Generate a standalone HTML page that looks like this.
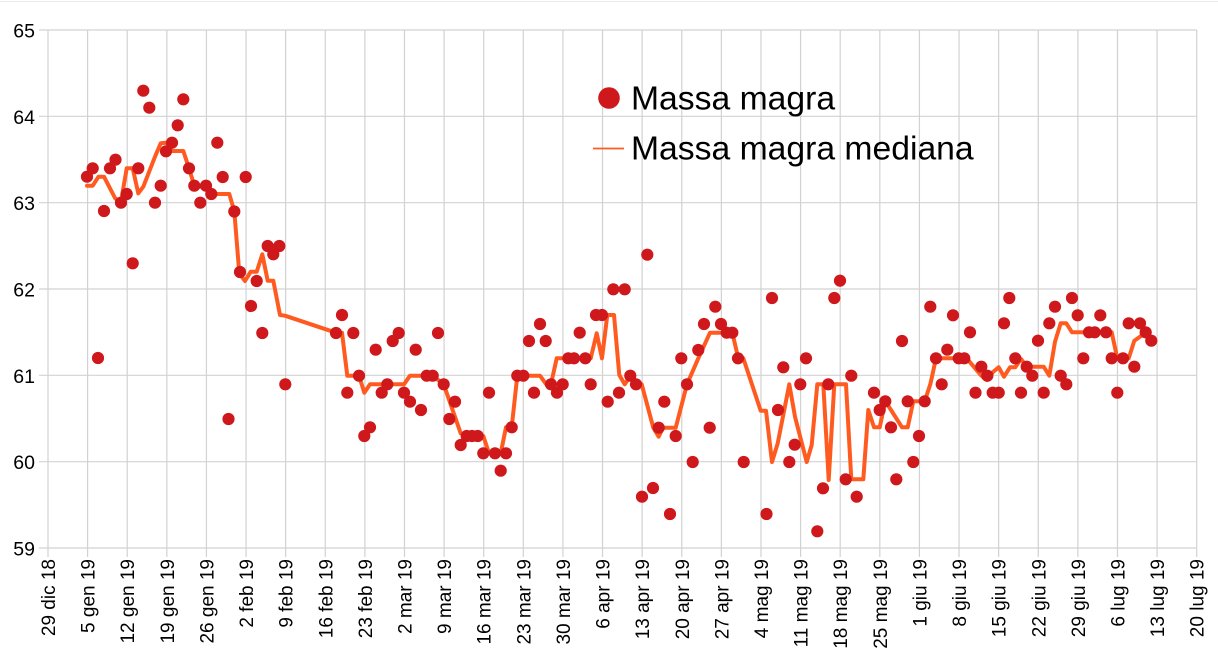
<!DOCTYPE html>
<html>
<head>
<meta charset="utf-8">
<style>
html,body{margin:0;padding:0;background:#fff;}
svg{display:block;}
text{font-family:"Liberation Sans",Arial,sans-serif;fill:#000;}
</style>
</head>
<body>
<svg width="1218" height="670" viewBox="0 0 1218 670" xmlns="http://www.w3.org/2000/svg">
<rect x="0" y="0" width="1218" height="670" fill="#fff"/>
<line x1="0" y1="1.5" x2="1218" y2="1.5" stroke="#ececec" stroke-width="1"/>
<g stroke="#d2d2d2" stroke-width="1.2" fill="none">
<line x1="39" y1="30" x2="1196.7" y2="30"/>
<line x1="39" y1="116.33" x2="1196.7" y2="116.33"/>
<line x1="39" y1="202.67" x2="1196.7" y2="202.67"/>
<line x1="39" y1="289" x2="1196.7" y2="289"/>
<line x1="39" y1="375.33" x2="1196.7" y2="375.33"/>
<line x1="39" y1="461.67" x2="1196.7" y2="461.67"/>
<line x1="39" y1="548" x2="1196.7" y2="548"/>
<line x1="48" y1="30" x2="48" y2="557"/>
<line x1="87.61" y1="30" x2="87.61" y2="557"/>
<line x1="127.22" y1="30" x2="127.22" y2="557"/>
<line x1="166.83" y1="30" x2="166.83" y2="557"/>
<line x1="206.44" y1="30" x2="206.44" y2="557"/>
<line x1="246.05" y1="30" x2="246.05" y2="557"/>
<line x1="285.66" y1="30" x2="285.66" y2="557"/>
<line x1="325.27" y1="30" x2="325.27" y2="557"/>
<line x1="364.88" y1="30" x2="364.88" y2="557"/>
<line x1="404.49" y1="30" x2="404.49" y2="557"/>
<line x1="444.1" y1="30" x2="444.1" y2="557"/>
<line x1="483.71" y1="30" x2="483.71" y2="557"/>
<line x1="523.32" y1="30" x2="523.32" y2="557"/>
<line x1="562.93" y1="30" x2="562.93" y2="557"/>
<line x1="602.54" y1="30" x2="602.54" y2="557"/>
<line x1="642.15" y1="30" x2="642.15" y2="557"/>
<line x1="681.76" y1="30" x2="681.76" y2="557"/>
<line x1="721.37" y1="30" x2="721.37" y2="557"/>
<line x1="760.98" y1="30" x2="760.98" y2="557"/>
<line x1="800.59" y1="30" x2="800.59" y2="557"/>
<line x1="840.2" y1="30" x2="840.2" y2="557"/>
<line x1="879.81" y1="30" x2="879.81" y2="557"/>
<line x1="919.42" y1="30" x2="919.42" y2="557"/>
<line x1="959.03" y1="30" x2="959.03" y2="557"/>
<line x1="998.64" y1="30" x2="998.64" y2="557"/>
<line x1="1038.25" y1="30" x2="1038.25" y2="557"/>
<line x1="1077.86" y1="30" x2="1077.86" y2="557"/>
<line x1="1117.47" y1="30" x2="1117.47" y2="557"/>
<line x1="1157.08" y1="30" x2="1157.08" y2="557"/>
<line x1="1196.69" y1="30" x2="1196.69" y2="557"/>
</g>

<g font-size="19.5" text-anchor="end">
<text x="35" y="37.5">65</text>
<text x="35" y="123.8">64</text>
<text x="35" y="210.2">63</text>
<text x="35" y="296.5">62</text>
<text x="35" y="382.8">61</text>
<text x="35" y="469.2">60</text>
<text x="35" y="555.5">59</text>
</g>

<g font-size="19" text-anchor="end">
<text transform="translate(55,559) rotate(-90)">29 dic 18</text>
<text transform="translate(94.61,559) rotate(-90)">5 gen 19</text>
<text transform="translate(134.22,559) rotate(-90)">12 gen 19</text>
<text transform="translate(173.83,559) rotate(-90)">19 gen 19</text>
<text transform="translate(213.44,559) rotate(-90)">26 gen 19</text>
<text transform="translate(253.05,559) rotate(-90)">2 feb 19</text>
<text transform="translate(292.66,559) rotate(-90)">9 feb 19</text>
<text transform="translate(332.27,559) rotate(-90)">16 feb 19</text>
<text transform="translate(371.88,559) rotate(-90)">23 feb 19</text>
<text transform="translate(411.49,559) rotate(-90)">2 mar 19</text>
<text transform="translate(451.1,559) rotate(-90)">9 mar 19</text>
<text transform="translate(490.71,559) rotate(-90)">16 mar 19</text>
<text transform="translate(530.32,559) rotate(-90)">23 mar 19</text>
<text transform="translate(569.93,559) rotate(-90)">30 mar 19</text>
<text transform="translate(609.54,559) rotate(-90)">6 apr 19</text>
<text transform="translate(649.15,559) rotate(-90)">13 apr 19</text>
<text transform="translate(688.76,559) rotate(-90)">20 apr 19</text>
<text transform="translate(728.37,559) rotate(-90)">27 apr 19</text>
<text transform="translate(767.98,559) rotate(-90)">4 mag 19</text>
<text transform="translate(807.59,559) rotate(-90)">11 mag 19</text>
<text transform="translate(847.2,559) rotate(-90)">18 mag 19</text>
<text transform="translate(886.81,559) rotate(-90)">25 mag 19</text>
<text transform="translate(926.42,559) rotate(-90)">1 giu 19</text>
<text transform="translate(966.03,559) rotate(-90)">8 giu 19</text>
<text transform="translate(1005.64,559) rotate(-90)">15 giu 19</text>
<text transform="translate(1045.25,559) rotate(-90)">22 giu 19</text>
<text transform="translate(1084.86,559) rotate(-90)">29 giu 19</text>
<text transform="translate(1124.47,559) rotate(-90)">6 lug 19</text>
<text transform="translate(1164.08,559) rotate(-90)">13 lug 19</text>
<text transform="translate(1203.69,559) rotate(-90)">20 lug 19</text>
</g>

<polyline fill="none" stroke="#ff5a1f" stroke-width="4" stroke-linejoin="round" stroke-linecap="round" points="
87,185.7 92.7,185.7 98.5,176.7 104,176.7 115,198 120.7,203.3 126.7,168.3 132.7,168.3 138.3,193.3 143.3,186.7
155,156.7 160.7,143.3 166.7,142.7 172,151 183.3,151 189,168.3 194.3,185.7 200,186.7 205,186.7 211.3,194
229.3,194 234.3,211.3 239.3,273.3 245,281 250.7,271.7 256.7,271.7 262.3,254.3 267.7,280.7 273.3,280.7 280,315
285,315.7 336,332.7 342,332.7 347.3,375.7 359,375.7 364.3,392.7 370,384.3 404,384.3 410,375.7 432.7,375.7
443.7,384.3 460.7,433.3 466.7,436 483.3,436 489,453.3 500.7,453.3 506,427.3 511.7,427.3 517.3,375.7 540,375.7
546,384 551,384 556.7,358.3 590.7,358.3 596.7,333.3 602,358.3 607.3,315 614,315 619.3,375 624.7,384.3
630,376.7 641.7,384.3 653.3,427.7 658.7,436.7 663,427.7 675.7,427.7 687,384.3 698.3,358.3 710,332.7 732.3,332.7
738.3,358.3 743.3,358.3 760.7,410.7 766,410.7 772,462 777.7,443.3 789.3,384.3 795,416.7 806.7,462 811.7,445
817.3,384.3 823.3,384.3 828.7,480 834.3,384.3 846,384.3 851.3,479.3 863.3,479.3 868.3,410 874,427.3 879.7,427.3
885.3,401.3 891,410 902,427.3 907.7,427.3 913.3,401.3 924.7,401.3 930.3,384.3 936,358.3 966.7,358.3 981.3,375.7
987,380 993,372 998.7,367.3 1004,376.7 1010,367.3 1015.3,367.3 1021,359 1026.7,366.7 1043.7,366.7 1049.3,375.7
1055,341.7 1060.7,323.3 1066.3,323.3 1072,332.3 1111.7,332.3 1117.3,358.3 1128.7,358.3 1134.3,340.7 1140,336.7 1145.7,332.3"/>

<g fill="#cf181b">
<circle cx="87" cy="176.7" r="6.1"/><circle cx="92.7" cy="168.3" r="6.1"/><circle cx="98" cy="358" r="6.1"/>
<circle cx="104" cy="211" r="6.1"/><circle cx="110" cy="168.3" r="6.1"/><circle cx="115.5" cy="159.7" r="6.1"/>
<circle cx="121" cy="202.7" r="6.1"/><circle cx="126.7" cy="194" r="6.1"/><circle cx="132.7" cy="263.3" r="6.1"/>
<circle cx="138.3" cy="168.3" r="6.1"/><circle cx="143.3" cy="90.7" r="6.1"/><circle cx="149.3" cy="107.7" r="6.1"/>
<circle cx="155" cy="202.7" r="6.1"/><circle cx="160.7" cy="185.7" r="6.1"/><circle cx="166" cy="151.3" r="6.1"/>
<circle cx="172" cy="142.7" r="6.1"/><circle cx="177.7" cy="125.3" r="6.1"/><circle cx="183.3" cy="99.3" r="6.1"/>
<circle cx="189" cy="168.3" r="6.1"/><circle cx="194.3" cy="185.7" r="6.1"/><circle cx="200.3" cy="202.7" r="6.1"/>
<circle cx="206" cy="185.7" r="6.1"/><circle cx="211.3" cy="194" r="6.1"/><circle cx="217.3" cy="142.7" r="6.1"/>
<circle cx="222.7" cy="177" r="6.1"/><circle cx="228.5" cy="419" r="6.1"/><circle cx="234.3" cy="211.5" r="6.1"/>
<circle cx="240" cy="272" r="6.1"/><circle cx="245.7" cy="177" r="6.1"/><circle cx="251" cy="306" r="6.1"/>
<circle cx="256.7" cy="281" r="6.1"/><circle cx="262.3" cy="333" r="6.1"/><circle cx="267.7" cy="246" r="6.1"/>
<circle cx="273.3" cy="254.3" r="6.1"/><circle cx="279.3" cy="246" r="6.1"/><circle cx="285.3" cy="384.3" r="6.1"/>
<circle cx="336" cy="333" r="6.1"/><circle cx="342" cy="315" r="6.1"/><circle cx="347.3" cy="392.7" r="6.1"/>
<circle cx="353.3" cy="333" r="6.1"/><circle cx="359" cy="375.7" r="6.1"/><circle cx="364.3" cy="436" r="6.1"/>
<circle cx="370" cy="427.3" r="6.1"/><circle cx="375.7" cy="349.7" r="6.1"/><circle cx="381.7" cy="392.7" r="6.1"/>
<circle cx="387.3" cy="384.3" r="6.1"/><circle cx="392.7" cy="341" r="6.1"/><circle cx="398.7" cy="333" r="6.1"/>
<circle cx="404" cy="392.7" r="6.1"/><circle cx="410" cy="401.7" r="6.1"/><circle cx="415.7" cy="349.7" r="6.1"/>
<circle cx="421" cy="410" r="6.1"/><circle cx="426.7" cy="375.7" r="6.1"/><circle cx="432.7" cy="375.7" r="6.1"/>
<circle cx="438" cy="333" r="6.1"/><circle cx="443.7" cy="384.3" r="6.1"/><circle cx="449.3" cy="419" r="6.1"/>
<circle cx="455" cy="401.7" r="6.1"/><circle cx="460.7" cy="445" r="6.1"/><circle cx="466.7" cy="436" r="6.1"/>
<circle cx="472" cy="436" r="6.1"/><circle cx="477.7" cy="436" r="6.1"/><circle cx="483.3" cy="453.3" r="6.1"/>
<circle cx="489" cy="392.7" r="6.1"/><circle cx="495" cy="453.3" r="6.1"/><circle cx="500.7" cy="470.7" r="6.1"/>
<circle cx="506" cy="453.3" r="6.1"/><circle cx="511.7" cy="427.3" r="6.1"/><circle cx="517.3" cy="375.7" r="6.1"/>
<circle cx="523.3" cy="375.7" r="6.1"/><circle cx="529" cy="341" r="6.1"/><circle cx="534" cy="392.7" r="6.1"/>
<circle cx="540" cy="324" r="6.1"/><circle cx="545.7" cy="341" r="6.1"/><circle cx="551" cy="384.3" r="6.1"/>
<circle cx="557" cy="392.7" r="6.1"/><circle cx="562.7" cy="384.3" r="6.1"/><circle cx="568.3" cy="358.3" r="6.1"/>
<circle cx="574" cy="358.3" r="6.1"/><circle cx="579.7" cy="332.7" r="6.1"/><circle cx="585.3" cy="358.3" r="6.1"/>
<circle cx="590.7" cy="384.3" r="6.1"/><circle cx="596" cy="315" r="6.1"/><circle cx="602" cy="315" r="6.1"/>
<circle cx="607.7" cy="401.7" r="6.1"/><circle cx="613.3" cy="289.3" r="6.1"/><circle cx="619" cy="392.7" r="6.1"/>
<circle cx="624.7" cy="289.3" r="6.1"/><circle cx="630.3" cy="375.7" r="6.1"/><circle cx="636" cy="384.3" r="6.1"/>
<circle cx="642" cy="496.7" r="6.1"/><circle cx="647.3" cy="254.7" r="6.1"/><circle cx="653" cy="488" r="6.1"/>
<circle cx="658.7" cy="427.7" r="6.1"/><circle cx="664.3" cy="401.7" r="6.1"/><circle cx="670" cy="514" r="6.1"/>
<circle cx="675.7" cy="436" r="6.1"/><circle cx="681.3" cy="358.3" r="6.1"/><circle cx="687" cy="384.3" r="6.1"/>
<circle cx="692.7" cy="462" r="6.1"/><circle cx="698.3" cy="350" r="6.1"/><circle cx="704" cy="324" r="6.1"/>
<circle cx="709.7" cy="427.7" r="6.1"/><circle cx="715.3" cy="306.7" r="6.1"/><circle cx="721" cy="324" r="6.1"/>
<circle cx="726.7" cy="332.7" r="6.1"/><circle cx="732.3" cy="332.7" r="6.1"/><circle cx="738" cy="358.3" r="6.1"/>
<circle cx="743.7" cy="462" r="6.1"/><circle cx="766.5" cy="514" r="6.1"/><circle cx="772" cy="298" r="6.1"/>
<circle cx="778" cy="410" r="6.1"/><circle cx="783.3" cy="367.3" r="6.1"/><circle cx="789.3" cy="462" r="6.1"/>
<circle cx="794.7" cy="444.7" r="6.1"/><circle cx="800.3" cy="384.3" r="6.1"/><circle cx="806" cy="358.3" r="6.1"/>
<circle cx="817.3" cy="531.3" r="6.1"/><circle cx="823" cy="488.3" r="6.1"/><circle cx="828.3" cy="384.3" r="6.1"/>
<circle cx="834.3" cy="298" r="6.1"/><circle cx="840" cy="280.7" r="6.1"/><circle cx="845.7" cy="479.3" r="6.1"/>
<circle cx="851.3" cy="375.7" r="6.1"/><circle cx="856.7" cy="496.7" r="6.1"/><circle cx="874" cy="392.7" r="6.1"/>
<circle cx="879.7" cy="410" r="6.1"/><circle cx="885.3" cy="401.3" r="6.1"/><circle cx="891" cy="427.3" r="6.1"/>
<circle cx="896.3" cy="479.3" r="6.1"/><circle cx="902" cy="341" r="6.1"/><circle cx="907.7" cy="401.3" r="6.1"/>
<circle cx="913.3" cy="462" r="6.1"/><circle cx="919" cy="436" r="6.1"/><circle cx="924.7" cy="401.3" r="6.1"/>
<circle cx="930.3" cy="306.7" r="6.1"/><circle cx="936" cy="358.3" r="6.1"/><circle cx="941.7" cy="384.3" r="6.1"/>
<circle cx="947.3" cy="349.7" r="6.1"/><circle cx="953" cy="315.3" r="6.1"/><circle cx="958.7" cy="358.3" r="6.1"/>
<circle cx="964.3" cy="358.3" r="6.1"/><circle cx="970" cy="332.3" r="6.1"/><circle cx="975.5" cy="392.7" r="6.1"/>
<circle cx="981.3" cy="366.7" r="6.1"/><circle cx="987.3" cy="375.7" r="6.1"/><circle cx="992.7" cy="392.7" r="6.1"/>
<circle cx="998.7" cy="392.7" r="6.1"/><circle cx="1004" cy="323.3" r="6.1"/><circle cx="1009.3" cy="298" r="6.1"/>
<circle cx="1015.3" cy="358.3" r="6.1"/><circle cx="1021" cy="392.7" r="6.1"/><circle cx="1026.7" cy="366.7" r="6.1"/>
<circle cx="1032.3" cy="375.7" r="6.1"/><circle cx="1038" cy="340.7" r="6.1"/><circle cx="1043.7" cy="392.7" r="6.1"/>
<circle cx="1049.3" cy="323.3" r="6.1"/><circle cx="1055" cy="306.7" r="6.1"/><circle cx="1060.7" cy="375.7" r="6.1"/>
<circle cx="1066.3" cy="384.3" r="6.1"/><circle cx="1072" cy="298" r="6.1"/><circle cx="1077.7" cy="315.3" r="6.1"/>
<circle cx="1083.3" cy="358.3" r="6.1"/><circle cx="1089" cy="332.3" r="6.1"/><circle cx="1094.7" cy="332.3" r="6.1"/>
<circle cx="1100.3" cy="315.3" r="6.1"/><circle cx="1106" cy="332.3" r="6.1"/><circle cx="1111.7" cy="358.3" r="6.1"/>
<circle cx="1117.3" cy="392.7" r="6.1"/><circle cx="1123" cy="358.3" r="6.1"/><circle cx="1128.7" cy="323.3" r="6.1"/>
<circle cx="1134.3" cy="366.7" r="6.1"/><circle cx="1140" cy="323.3" r="6.1"/><circle cx="1145.7" cy="332.3" r="6.1"/>
<circle cx="1151.3" cy="340.7" r="6.1"/>
</g>

<circle cx="609" cy="98" r="10.8" fill="#cf181b"/>
<line x1="593" y1="148.5" x2="624" y2="148.5" stroke="#ff5a1f" stroke-width="1.8"/>
<g font-size="33.7">
<text x="631" y="109.5">Massa magra</text>
<text x="631" y="159.5">Massa magra mediana</text>
</g>
</svg>
</body>
</html>
